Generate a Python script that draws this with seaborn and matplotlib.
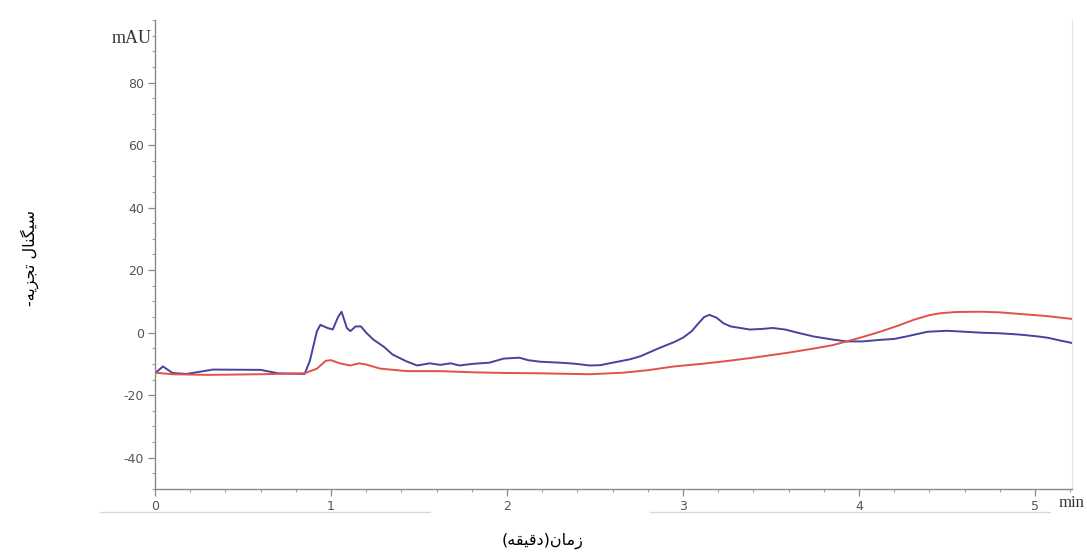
import pandas as pd
import seaborn as sns
import matplotlib.pyplot as plt
from matplotlib.ticker import MultipleLocator
from matplotlib.lines import Line2D
from matplotlib.transforms import blended_transform_factory

# blue trace (time in min, signal in mAU)
blue_t = [0.00, 0.045, 0.10, 0.18, 0.33, 0.60, 0.70, 0.85, 0.88, 0.92, 0.94, 0.98, 1.01, 1.04, 1.06,
          1.09, 1.11, 1.14, 1.17, 1.20, 1.24, 1.30, 1.35, 1.43, 1.49, 1.56, 1.62, 1.68, 1.73, 1.80,
          1.90, 1.98, 2.07, 2.12, 2.19, 2.30, 2.38, 2.47, 2.53, 2.60, 2.70, 2.76, 2.87, 2.95, 3.00,
          3.05, 3.08, 3.12, 3.15, 3.19, 3.23, 3.27, 3.38, 3.45, 3.51, 3.58, 3.65, 3.74, 3.85, 3.93,
          4.02, 4.12, 4.20, 4.27, 4.39, 4.50, 4.60, 4.69, 4.80, 4.91, 5.00, 5.07, 5.15, 5.21]
blue_v = [-13.0, -10.8, -12.9, -13.2, -11.8, -11.9, -13.0, -13.2, -9.0, 0.5, 2.5, 1.5, 1.0, 5.0, 6.7,
          1.5, 0.5, 2.0, 2.0, 0.0, -2.2, -4.5, -7.0, -9.2, -10.5, -9.8, -10.3, -9.8, -10.5, -10.0,
          -9.6, -8.3, -8.0, -8.8, -9.3, -9.6, -9.9, -10.5, -10.4, -9.6, -8.5, -7.5, -4.8, -3.0, -1.6,
          0.5, 2.5, 5.0, 5.7, 4.8, 3.0, 2.0, 1.0, 1.2, 1.5, 1.0, 0.0, -1.2, -2.2, -2.8,
          -2.8, -2.3, -2.0, -1.2, 0.3, 0.6, 0.3, 0.0, -0.2, -0.6, -1.1, -1.6, -2.6, -3.3]

# red trace
red_t = [0.00, 0.10, 0.30, 0.60, 0.85, 0.92, 0.97, 1.00, 1.05, 1.11, 1.16, 1.20, 1.28, 1.43, 1.62,
         1.82, 2.00, 2.19, 2.47, 2.66, 2.80, 2.95, 3.10, 3.23, 3.40, 3.61, 3.74, 3.85, 3.93, 4.02,
         4.12, 4.22, 4.31, 4.40, 4.46, 4.55, 4.69, 4.80, 4.91, 5.05, 5.21]
red_v = [-12.8, -13.3, -13.5, -13.3, -13.0, -11.5, -9.0, -8.8, -9.8, -10.5, -9.8, -10.2, -11.5, -12.3, -12.3,
         -12.7, -12.9, -13.0, -13.3, -12.8, -12.0, -10.8, -10.0, -9.2, -8.0, -6.3, -5.1, -4.0, -2.8, -1.4,
         0.3, 2.2, 4.1, 5.6, 6.2, 6.6, 6.7, 6.5, 6.0, 5.4, 4.4]

x_ticks = [0, 1, 2, 3, 4, 5]
y_ticks = [-40, -20, 0, 20, 40, 60, 80]

# RTL labels written in visual order with Arabic presentation forms
# (matplotlib has no text shaping)
y_label = "-\uFEEA\uFBFE\uFEB0\uFEA0\uFE97 \uFEDD\uFE8E\uFEE8\uFB95\uFBFF\uFEB3"   # سیگنال تجزیه-
x_label = "(\uFEEA\uFED8\uFBFF\uFED7\uFEA9)\uFEE5\uFE8E\uFEE3\uFEAF"            # زمان(دقیقه)

df = pd.concat([
    pd.DataFrame({"t": blue_t, "v": blue_v, "trace": "blue"}),
    pd.DataFrame({"t": red_t, "v": red_v, "trace": "red"}),
])

sns.set_style("white")
plt.rcParams["axes.unicode_minus"] = False
plt.rcParams["font.family"] = ["DejaVu Sans", "Noto Sans"]

fig = plt.figure(figsize=(10.87, 5.54), dpi=100)
ax = fig.add_axes([155 / 1087, 1 - 489 / 554, (1072 - 155) / 1087, (489 - 20) / 554])

sns.lineplot(data=df, x="t", y="v", hue="trace", palette={"blue": "#45439c", "red": "#e2514c"},
             sort=False, estimator=None, linewidth=1.4, legend=False, ax=ax)

ax.set_xlim(0, 5.21)
ax.set_ylim(-50, 100)
ax.set_xticks(x_ticks)
ax.set_yticks(y_ticks)
ax.xaxis.set_minor_locator(MultipleLocator(0.2))
ax.yaxis.set_minor_locator(MultipleLocator(5))
ax.set_xlabel("")
ax.set_ylabel("")

for s in ["left", "bottom"]:
    ax.spines[s].set_color("#8a8a8a")
    ax.spines[s].set_linewidth(1.0)
ax.spines["right"].set_color("#e4e4e4")
ax.spines["top"].set_visible(False)

# seaborn's white style hides ticks, switch them back on
ax.tick_params(which="both", bottom=True, left=True, top=False, right=False)
ax.tick_params(which="major", direction="out", length=5, width=0.9, color="#8a8a8a",
               labelsize=9, labelcolor="#555555", pad=3)
ax.tick_params(which="minor", direction="out", length=2.5, width=0.8, color="#a0a0a0")

# unit labels
ax.text(-0.004, 94, "mAU", transform=ax.get_yaxis_transform(), ha="right", va="center",
        family="Liberation Serif", fontsize=13, color="#333333")
ax.text(1.0, -54.5, "min", transform=blended_transform_factory(ax.transAxes, ax.transData),
        ha="center", va="center", family="Liberation Serif", fontsize=12, color="#333333")

fig.text(30 / 1087, 1 - 258 / 554, y_label, rotation=90, ha="center", va="center",
         fontsize=11.5, color="black", family=["DejaVu Sans"])
fig.text(543 / 1087, 1 - 541 / 554, x_label, ha="center", va="center",
         fontsize=11.5, color="black", family=["DejaVu Sans"])

# faint screenshot underlines below the tick labels
fig.add_artist(Line2D([100 / 1087, 430 / 1087], [1 - 512 / 554] * 2, color="#d8d8d8", lw=1))
fig.add_artist(Line2D([650 / 1087, 1050 / 1087], [1 - 512 / 554] * 2, color="#d8d8d8", lw=1))

fig.savefig("out.png", dpi=100)
